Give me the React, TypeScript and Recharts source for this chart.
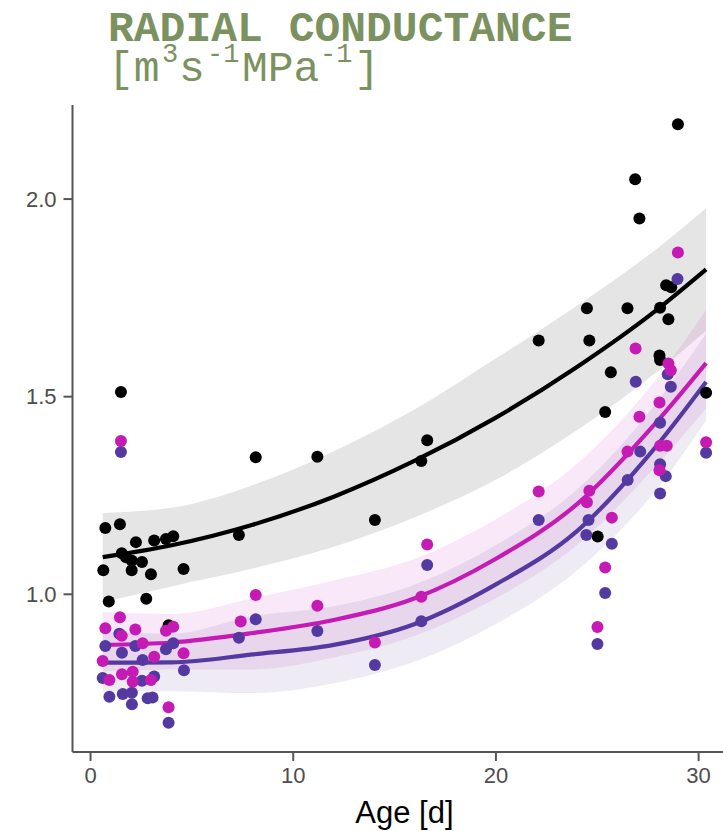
import React from 'react';
import { ComposedChart, XAxis, YAxis, Area, Line, Scatter, Label } from 'recharts';

// ---- fitted curves and confidence bands ----
const fitAge = [0.6, 4, 8, 12, 16, 20, 24, 28, 30.37];
const blackFit = [1.094, 1.124, 1.176, 1.247, 1.338, 1.447, 1.575, 1.722, 1.822];
const blackLow = [0.98, 1.02, 1.065, 1.12, 1.195, 1.29, 1.415, 1.565, 1.667];
const blackHigh = [1.206, 1.219, 1.276, 1.362, 1.468, 1.597, 1.73, 1.877, 1.977];
const magentaFit = [0.872, 0.878, 0.902, 0.935, 0.99, 1.09, 1.228, 1.44, 1.585];
const magentaLow = [0.805, 0.81, 0.81, 0.84, 0.895, 0.99, 1.125, 1.33, 1.47];
const magentaHigh = [0.955, 0.95, 0.99, 1.035, 1.09, 1.19, 1.33, 1.55, 1.72];
const purpleFit = [0.827, 0.828, 0.848, 0.872, 0.925, 1.025, 1.16, 1.38, 1.537];
const purpleLow = [0.755, 0.755, 0.75, 0.775, 0.83, 0.925, 1.06, 1.27, 1.44];
const purpleHigh = [0.905, 0.9, 0.945, 0.97, 1.025, 1.125, 1.265, 1.49, 1.66];

// ---- observations ----
const blackAge = [0.73, 1.45, 2.24, 3.14, 3.72, 4.08, 1.54, 1.75, 2.04, 2.54, 0.63, 2.03, 2.98, 4.59, 0.9, 2.75, 3.85, 1.5,
  7.32, 8.15, 11.19, 14.03, 16.32, 16.61,
  22.11, 24.49, 24.61, 25.02, 25.39, 25.67, 26.49, 26.87, 27.08, 28.1, 28.07, 28.1, 28.4, 28.65, 28.51, 28.98, 30.37];
const blackValue = [1.168, 1.177, 1.132, 1.136, 1.14, 1.147, 1.104, 1.094, 1.085, 1.082, 1.061, 1.061, 1.051, 1.064, 0.982, 0.989, 0.922, 1.512,
  1.15, 1.347, 1.348, 1.188, 1.337, 1.39,
  1.642, 1.724, 1.642, 1.146, 1.461, 1.562, 1.724, 2.05, 1.951, 1.725, 1.604, 1.593, 1.782, 1.777, 1.696, 2.189, 1.51];

const magentaAge = [1.45, 4.08, 3.72, 0.73, 2.21, 1.54, 2.57, 4.59, 0.6, 3.14, 0.93, 1.55, 2.08, 2.08, 2.98, 3.85, 1.5,
  7.41, 8.15, 11.19, 14.03, 16.32, 16.61,
  22.11, 24.49, 24.61, 25.01, 25.39, 25.72, 26.49, 26.89, 27.08, 28.07, 28.1, 28.07, 28.43, 28.51, 28.63, 28.98, 30.37];
const magentaValue = [0.942, 0.918, 0.908, 0.914, 0.911, 0.895, 0.876, 0.851, 0.831, 0.842, 0.783, 0.798, 0.804, 0.779, 0.783, 0.714, 1.388,
  0.931, 0.998, 0.971, 0.878, 0.994, 1.126,
  1.26, 1.233, 1.262, 0.917, 1.068, 1.194, 1.361, 1.622, 1.449, 1.485, 1.376, 1.314, 1.376, 1.584, 1.567, 1.865, 1.385];

const purpleAge = [0.73, 1.42, 1.55, 2.21, 2.57, 3.72, 4.08, 4.61, 0.6, 3.14, 0.93, 1.59, 2.04, 2.04, 2.54, 2.82, 3.06, 3.85, 1.5,
  7.32, 8.15, 11.19, 14.03, 16.32, 16.61,
  22.11, 24.46, 24.57, 25.01, 25.39, 25.72, 26.5, 26.9, 27.12, 28.1, 28.1, 28.1, 28.38, 28.48, 28.63, 28.96, 30.37];
const purpleValue = [0.869, 0.9, 0.852, 0.869, 0.834, 0.861, 0.876, 0.808, 0.788, 0.792, 0.741, 0.748, 0.751, 0.722, 0.781, 0.737, 0.739, 0.675, 1.36,
  0.89, 0.937, 0.907, 0.821, 0.932, 1.074,
  1.188, 1.15, 1.188, 0.874, 1.003, 1.128, 1.289, 1.538, 1.361, 1.434, 1.329, 1.255, 1.299, 1.557, 1.525, 1.798, 1.358];

const xTicks = [0, 10, 20, 30];
const yTicks = [1.0, 1.5, 2.0];

const BLACK = '#000000';
const MAGENTA = '#c51ab4';
const PURPLE = '#5439a1';
const TITLE = '#7b9260';

const fitRows = fitAge.map((age, i) => ({
  age,
  blackFit: blackFit[i],
  blackBand: [blackLow[i], blackHigh[i]],
  magentaFit: magentaFit[i],
  magentaBand: [magentaLow[i], magentaHigh[i]],
  purpleFit: purpleFit[i],
  purpleBand: [purpleLow[i], purpleHigh[i]],
}));

const zip = (a: number[], v: number[]) => a.map((age, i) => ({ age, value: v[i] }));
const blackPts = zip(blackAge, blackValue);
const magentaPts = zip(magentaAge, magentaValue);
const purplePts = zip(purpleAge, purpleValue);

const dot = (color: string) => (props: any) => (
  <circle cx={props.cx} cy={props.cy} r={6} fill={color} />
);

const tickStyle = { fontFamily: 'Liberation Sans, Arial, sans-serif', fontSize: 22, fill: '#4d4d4d' };
const MONO = 'Liberation Mono, monospace';

export default function App() {
  return (
    <div style={{ position: 'absolute', left: 0, top: 0, width: 723, height: 831, overflow: 'hidden', background: '#fff' }}>
      <ComposedChart
        width={740}
        height={831}
        data={fitRows}
        margin={{ top: 105, right: 3.7, left: 0, bottom: 0 }}
      >
        <XAxis
          type="number"
          dataKey="age"
          domain={[-0.89, 31.86]}
          ticks={xTicks}
          allowDataOverflow
          height={79}
          tickSize={9}
          tickMargin={6}
          tick={tickStyle}
          stroke="#555555"
          strokeWidth={2}
        >
          <Label
            value="Age [d]"
            position="insideBottom"
            offset={8}
            style={{ fontFamily: 'Liberation Sans, Arial, sans-serif', fontSize: 31, fill: '#000' }}
          />
        </XAxis>
        <YAxis
          type="number"
          domain={[0.601, 2.238]}
          ticks={yTicks}
          allowDataOverflow
          width={72.5}
          tickSize={9}
          tickMargin={7}
          tick={tickStyle}
          tickFormatter={(v: number) => v.toFixed(1)}
          stroke="#555555"
          strokeWidth={2}
        />
        <Area dataKey="blackBand" type="monotone" fill={BLACK} fillOpacity={0.1} stroke="none" isAnimationActive={false} />
        <Area dataKey="magentaBand" type="monotone" fill={MAGENTA} fillOpacity={0.1} stroke="none" isAnimationActive={false} />
        <Area dataKey="purpleBand" type="monotone" fill={PURPLE} fillOpacity={0.1} stroke="none" isAnimationActive={false} />
        <Scatter data={blackPts} dataKey="value" shape={dot(BLACK)} isAnimationActive={false} />
        <Scatter data={purplePts} dataKey="value" shape={dot(PURPLE)} isAnimationActive={false} />
        <Scatter data={magentaPts} dataKey="value" shape={dot(MAGENTA)} isAnimationActive={false} />
        <Line dataKey="blackFit" type="monotone" stroke={BLACK} strokeWidth={4.2} dot={false} isAnimationActive={false} />
        <Line dataKey="magentaFit" type="monotone" stroke={MAGENTA} strokeWidth={4.2} dot={false} isAnimationActive={false} />
        <Line dataKey="purpleFit" type="monotone" stroke={PURPLE} strokeWidth={4.2} dot={false} isAnimationActive={false} />
      </ComposedChart>
      <svg width={723} height={100} style={{ position: 'absolute', left: 0, top: 0 }}>
        <text fontFamily={MONO} fill={TITLE}>
          <tspan x={108} y={41} fontWeight="bold" fontSize={43}>RADIAL CONDUCTANCE</tspan>
          <tspan x={108} y={81} fontSize={43}>[m</tspan>
          <tspan x={162} y={62} fontSize={27}>3</tspan>
          <tspan x={179} y={81} fontSize={43}>s</tspan>
          <tspan x={207} y={62} fontSize={27}>-1</tspan>
          <tspan x={242} y={81} fontSize={43}>MPa</tspan>
          <tspan x={320} y={62} fontSize={27}>-1</tspan>
          <tspan x={354} y={81} fontSize={43}>]</tspan>
        </text>
      </svg>
    </div>
  );
}
